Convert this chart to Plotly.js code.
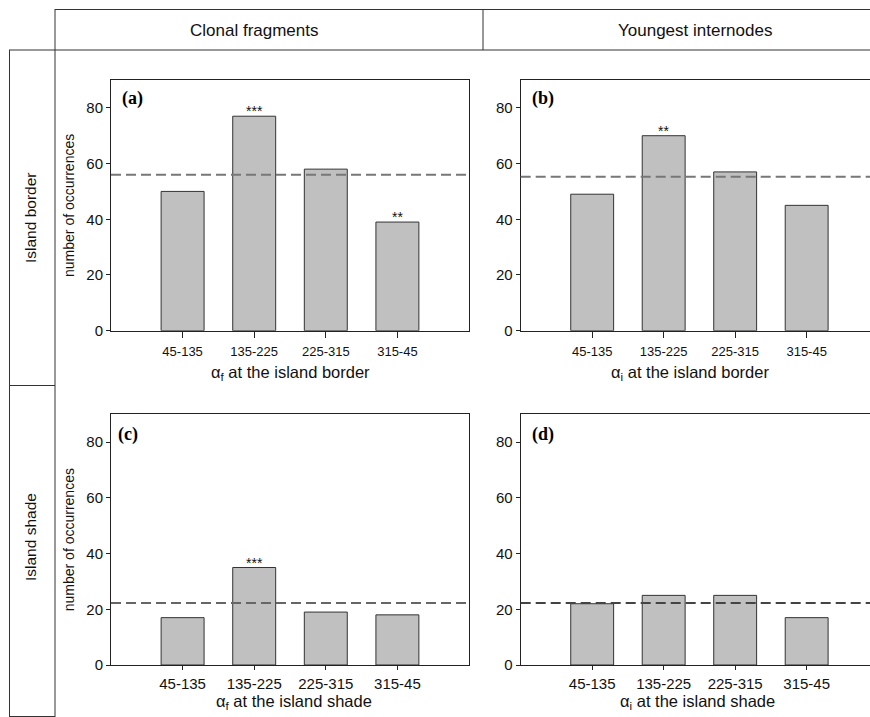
<!DOCTYPE html>
<html>
<head>
<meta charset="utf-8">
<script src="https://cdn.plot.ly/plotly-3.0.1.min.js"></script>
<style>html,body{margin:0;padding:0;background:#fff;}#chart{width:870px;height:717px;}</style>
</head>
<body>
<div id="chart"></div>
<script>
// ---- data ----
const categories = ["45-135", "135-225", "225-315", "315-45"];
const valuesA = [50, 77, 58, 39];   // clonal fragments, island border
const valuesB = [49, 70, 57, 45];   // youngest internodes, island border
const valuesC = [17, 35, 19, 18];   // clonal fragments, island shade
const valuesD = [22, 25, 25, 17];   // youngest internodes, island shade
const expectedA = 56;
const expectedB = 55.25;
const expectedC = 22.25;
const expectedD = 22.25;
const signifA = ["", "***", "", "**"];
const signifB = ["", "**", "", ""];
const signifC = ["", "***", "", ""];
const signifD = ["", "", "", ""];
const yTicks = [0, 20, 40, 60, 80];
const panelLabels = ["(a)", "(b)", "(c)", "(d)"];
const columnTitles = ["Clonal fragments", "Youngest internodes"];
const rowTitles = ["Island border", "Island shade"];
const yTitle = "number of occurrences";
const xTitles = [
  "α<sub>f</sub> at the island border",
  "α<sub>i</sub> at the island border",
  "α<sub>f</sub> at the island shade",
  "α<sub>i</sub> at the island shade"
];

// ---- geometry helpers ----
const W = 870, H = 717;
const px = x => x / W;
const py = y => 1 - y / H;

const FONT = "Liberation Sans, Arial, sans-serif";
const LINE = "#222";

const panels = [
  {vals: valuesA, exp: expectedA, sig: signifA, xa: "x",  ya: "y",  xdom: [px(111), px(469)], ydom: [py(330.7), py(80)],  xr: [-1, 4],     mirrorY: true,  yTitle: yTitle, tickFont: 13, tickLen: 6, standoff: 3, dashColor: "#777"},
  {vals: valuesB, exp: expectedB, sig: signifB, xa: "x2", ya: "y2", xdom: [px(520.7), 1],   ydom: [py(330.7), py(80)],  xr: [-1, 3.886], mirrorY: false, yTitle: "",     tickFont: 13, tickLen: 6, standoff: 3, dashColor: "#777"},
  {vals: valuesC, exp: expectedC, sig: signifC, xa: "x3", ya: "y3", xdom: [px(111), px(469)], ydom: [py(665), py(414.3)], xr: [-1, 4],     mirrorY: true,  yTitle: yTitle, tickFont: 15, tickLen: 4, standoff: 1, dashColor: "#666"},
  {vals: valuesD, exp: expectedD, sig: signifD, xa: "x4", ya: "y4", xdom: [px(520.7), 1],   ydom: [py(665), py(414.3)], xr: [-1, 3.886], mirrorY: false, yTitle: "",     tickFont: 15, tickLen: 4, standoff: 1, dashColor: "#444"}
];

const traces = [];
const layout = {
  width: W, height: H,
  margin: {l: 0, r: 0, t: 0, b: 0},
  paper_bgcolor: "#fff", plot_bgcolor: "#fff",
  showlegend: false,
  font: {family: FONT, color: "#111"},
  shapes: [], annotations: []
};

panels.forEach((p, i) => {
  traces.push({
    type: "bar", x: categories, y: p.vals,
    xaxis: p.xa, yaxis: p.ya, width: 0.6,
    marker: {color: "#c0c0c0", line: {color: "#333", width: 1}},
    hoverinfo: "x+y"
  });
  const xk = "xaxis" + (i === 0 ? "" : i + 1);
  const yk = "yaxis" + (i === 0 ? "" : i + 1);
  layout[xk] = {
    domain: p.xdom, anchor: p.ya, type: "category", range: p.xr,
    showline: true, linecolor: LINE, linewidth: 1, mirror: true,
    ticks: "outside", ticklen: p.tickLen, tickcolor: LINE,
    ticklabelstandoff: p.standoff,
    tickfont: {size: p.tickFont, family: FONT, color: "#111"},
    showgrid: false, zeroline: false, fixedrange: true
  };
  layout[yk] = {
    domain: p.ydom, anchor: p.xa, range: [0, 90],
    tickvals: yTicks, ticktext: yTicks.map(String),
    showline: true, linecolor: LINE, linewidth: 1, mirror: p.mirrorY,
    ticks: "outside", ticklen: 4, tickcolor: LINE,
    tickfont: {size: 15, family: FONT, color: "#111"},
    title: {text: p.yTitle, font: {size: 14, family: FONT, color: "#111"}, standoff: 8},
    showgrid: false, zeroline: false, fixedrange: true
  };
  // expected-value dashed line
  layout.shapes.push({
    type: "line", xref: p.xa + " domain", yref: p.ya,
    x0: 0, x1: 1, y0: p.exp, y1: p.exp,
    line: {color: p.dashColor, width: 2, dash: "10px,5px"}
  });
  // significance stars
  categories.forEach((c, k) => {
    if (p.sig[k]) {
      layout.annotations.push({
        xref: p.xa, yref: p.ya, x: c, y: p.vals[k],
        text: p.sig[k], showarrow: false, yanchor: "bottom", yshift: -5,
        font: {size: 14, family: FONT, color: "#111"}
      });
    }
  });
});

// panel labels
const labelPos = [[120, 99], [530, 99], [116, 434], [530, 434]];
panelLabels.forEach((t, i) => {
  layout.annotations.push({
    xref: "paper", yref: "paper", x: px(labelPos[i][0]), y: py(labelPos[i][1]),
    xanchor: "left", yanchor: "middle", showarrow: false,
    text: "<b>" + t + "</b>",
    font: {size: 18, family: "Liberation Serif, Times New Roman, serif", color: "#000"}
  });
});

// x axis titles
const xTitlePos = [[290, 373], [690, 373], [294, 702], [697, 702]];
xTitles.forEach((t, i) => {
  layout.annotations.push({
    xref: "paper", yref: "paper", x: px(xTitlePos[i][0]), y: py(xTitlePos[i][1]),
    xanchor: "center", yanchor: "middle", showarrow: false, text: t,
    font: {size: 16.5, family: FONT, color: "#111"}
  });
});

// column headers
[[254, 30], [695, 30]].forEach((pos, i) => {
  layout.annotations.push({
    xref: "paper", yref: "paper", x: px(pos[0]), y: py(pos[1]),
    xanchor: "center", yanchor: "middle", showarrow: false,
    text: columnTitles[i], font: {size: 17, family: FONT, color: "#111"}
  });
});

// row headers
[[30, 218], [30, 537]].forEach((pos, i) => {
  layout.annotations.push({
    xref: "paper", yref: "paper", x: px(pos[0]), y: py(pos[1]),
    xanchor: "center", yanchor: "middle", showarrow: false, textangle: -90,
    text: rowTitles[i], font: {size: 15.5, family: FONT, color: "#111"}
  });
});

// table frame lines
function hline(y, x0, x1) {
  layout.shapes.push({type: "line", xref: "paper", yref: "paper", x0: px(x0), x1: px(x1), y0: py(y), y1: py(y), line: {color: "#333", width: 1}});
}
function vline(x, y0, y1) {
  layout.shapes.push({type: "line", xref: "paper", yref: "paper", x0: px(x), x1: px(x), y0: py(y0), y1: py(y1), line: {color: "#333", width: 1}});
}
hline(9.5, 55, 870);
hline(50, 9, 870);
vline(55, 9, 717);
vline(483, 9, 50);
vline(9.5, 50, 716.5);
hline(385.5, 9, 55);
hline(716.5, 9, 55);

Plotly.newPlot("chart", traces, layout, {displayModeBar: false, staticPlot: true});
</script>
</body>
</html>
